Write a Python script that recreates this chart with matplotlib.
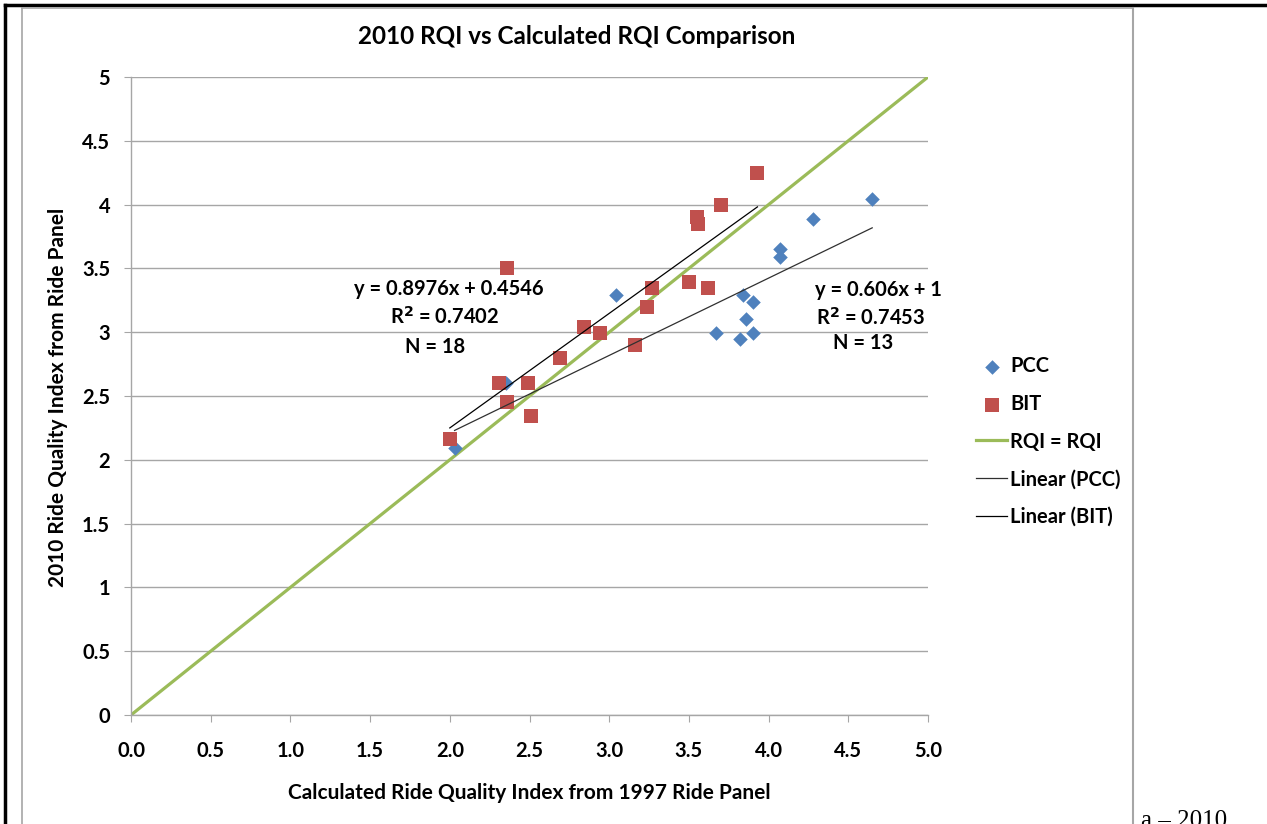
import matplotlib

matplotlib.use("Agg")
import numpy as np
from matplotlib import pyplot as plt
from matplotlib.lines import Line2D
from matplotlib.ticker import FuncFormatter, MultipleLocator

# 1997 panel (calculated) vs 2010 panel RQI
pcc_x = [2.03, 2.35, 3.04, 3.67, 3.82, 3.84, 3.90, 3.86, 3.90, 4.07, 4.07, 4.28, 4.65]
pcc_y = [2.09, 2.60, 3.29, 2.99, 2.95, 3.29, 3.24, 3.10, 2.99, 3.65, 3.59, 3.89, 4.04]
bit_x = [2.00, 2.31, 2.36, 2.36, 2.49, 2.51, 2.69, 2.84, 2.94, 3.16,
         3.24, 3.27, 3.50, 3.62, 3.55, 3.56, 3.70, 3.93]
bit_y = [2.16, 2.60, 2.45, 3.50, 2.60, 2.34, 2.80, 3.04, 2.99, 2.90,
         3.20, 3.35, 3.39, 3.35, 3.90, 3.85, 4.00, 4.25]

pcc_fit = (0.606, 1.0)
bit_fit = (0.8976, 0.4546)
pcc_r2 = 0.7453
bit_r2 = 0.7402

blue = "#4F81BD"
red = "#C0504D"
green = "#9BBB59"
grid_gray = "#A6A6A6"

plt.rcParams["font.family"] = ["Lato", "DejaVu Sans"]
plt.rcParams["font.weight"] = "bold"
fs = 14.5

W, H = 1267, 824
fig = plt.figure(figsize=(W / 100, H / 100), dpi=100)
ax = fig.add_axes([131 / W, 1 - 715 / H, (928 - 131) / W, (715 - 77) / H])

ax.plot([0, 5], [0, 5], color=green, lw=2.3, label="RQI = RQI", zorder=2)
ax.scatter(pcc_x, pcc_y, marker="D", s=55, color=blue, label="PCC", zorder=3, linewidths=0)
ax.scatter(bit_x, bit_y, marker="s", s=110, color=red, label="BIT", zorder=3, linewidths=0)

xs = np.array([min(pcc_x), max(pcc_x)])
ax.plot(xs, pcc_fit[0] * xs + pcc_fit[1], color="#303030", lw=0.9, label="Linear (PCC)", zorder=4)
xs = np.array([min(bit_x), max(bit_x)])
ax.plot(xs, bit_fit[0] * xs + bit_fit[1], color="black", lw=0.9, label="Linear (BIT)", zorder=4)

ax.set_xlim(0, 5)
ax.set_ylim(0, 5)
ax.xaxis.set_major_locator(MultipleLocator(0.5))
ax.yaxis.set_major_locator(MultipleLocator(0.5))
ax.xaxis.set_major_formatter(FuncFormatter(lambda v, p: f"{v:.1f}"))
ax.yaxis.set_major_formatter(FuncFormatter(lambda v, p: f"{v:g}"))
ax.grid(axis="y", color=grid_gray, lw=1.0)
ax.set_axisbelow(True)
for side in ("top", "right"):
    ax.spines[side].set_visible(False)
for side in ("left", "bottom"):
    ax.spines[side].set_color(grid_gray)
    ax.spines[side].set_linewidth(1.0)
ax.tick_params(axis="both", direction="out", length=5, color=grid_gray, labelsize=fs)
ax.tick_params(axis="x", pad=14)
ax.tick_params(axis="y", pad=10)

fig.text(577 / W, 1 - 37 / H, "2010 RQI vs Calculated RQI Comparison",
         ha="center", va="center", fontsize=17.5, fontweight="bold")
fig.text(529 / W, 1 - 793 / H, "Calculated Ride Quality Index from 1997 Ride Panel",
         ha="center", va="center", fontsize=fs + 0.5, fontweight="bold")
fig.text(58 / W, 1 - 397 / H, "2010 Ride Quality Index from Ride Panel",
         ha="center", va="center", rotation=90, fontsize=fs + 0.5, fontweight="bold")

# trendline labels, one line each
ax.text(1.995, 3.34, f"y = {bit_fit[0]}x + {bit_fit[1]}", ha="center", va="center", fontsize=fs)
ax.text(1.97, 3.12, f"R$^2$ = {bit_r2}", ha="center", va="center", fontsize=fs)
ax.text(1.907, 2.884, f"N = {len(bit_x)}", ha="center", va="center", fontsize=fs)
ax.text(4.686, 3.33, f"y = {pcc_fit[0]:g}x + {pcc_fit[1]:g}", ha="center", va="center", fontsize=fs)
ax.text(4.642, 3.11, f"R$^2$ = {pcc_r2}", ha="center", va="center", fontsize=fs)
ax.text(4.592, 2.915, f"N = {len(pcc_x)}", ha="center", va="center", fontsize=fs)

handles, labels = ax.get_legend_handles_labels()
order = [labels.index(k) for k in ["PCC", "BIT", "RQI = RQI", "Linear (PCC)", "Linear (BIT)"]]
fig.legend([handles[i] for i in order], [labels[i] for i in order],
           loc="upper left", bbox_to_anchor=(966 / W, 1 - 346 / H), frameon=False,
           fontsize=fs, handlelength=1.55, handletextpad=0.15, labelspacing=0.88,
           borderpad=0, scatterpoints=1)

# page / chart frame lines
fig.add_artist(Line2D([5 / W, 1], [1 - 5 / H, 1 - 5 / H], color="black", lw=2.5))
fig.add_artist(Line2D([5 / W, 5 / W], [0, 1 - 5 / H], color="black", lw=2.5))
fig.add_artist(Line2D([22 / W, 1133 / W], [1 - 7.5 / H, 1 - 7.5 / H], color=grid_gray, lw=1.2))
fig.add_artist(Line2D([22 / W, 22 / W], [0, 1 - 7.5 / H], color=grid_gray, lw=1.2))
fig.add_artist(Line2D([1133 / W, 1133 / W], [0, 1 - 7.5 / H], color=grid_gray, lw=1.5))
fig.text(1141 / W, -3 / H, "a \u2013 2010", family=["Liberation Serif", "DejaVu Serif"],
         fontweight="normal", fontsize=18, ha="left", va="baseline")

fig.savefig("out.png", dpi=100)
